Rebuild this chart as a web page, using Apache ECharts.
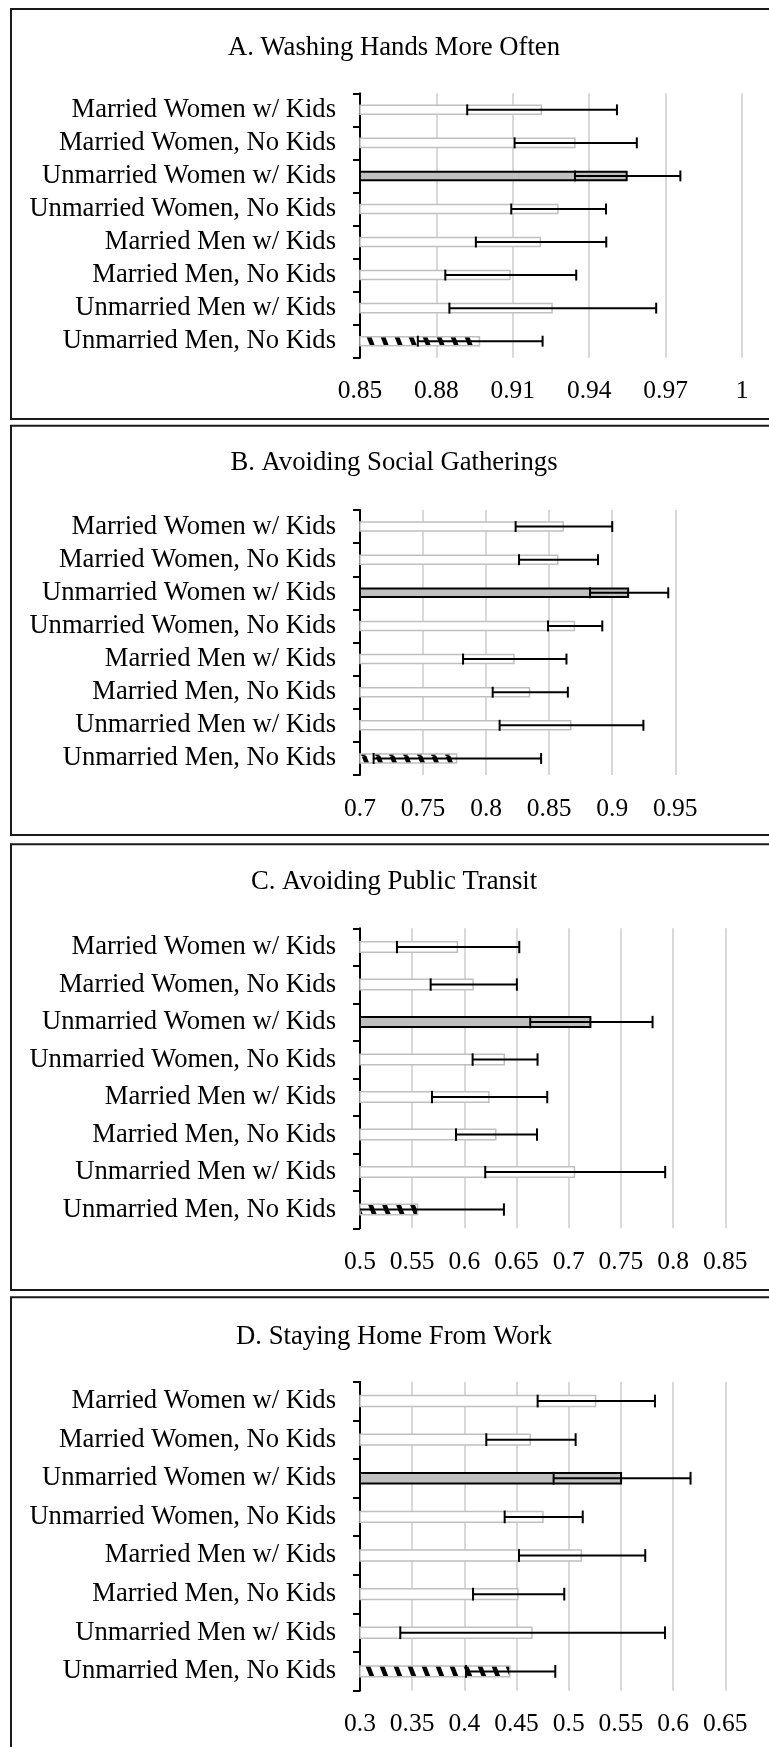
<!DOCTYPE html>
<html>
<head>
<meta charset="utf-8">
<script src="https://cdn.jsdelivr.net/npm/echarts@6/dist/echarts.min.js"></script>
<style>
html,body{margin:0;padding:0;background:#fff;}
#chart{width:769px;height:1747px;}
</style>
</head>
<body>
<div id="chart"></div>
<script>
// ---- data ----
const categories = [
  'Married Women w/ Kids',
  'Married Women, No Kids',
  'Unmarried Women w/ Kids',
  'Unmarried Women, No Kids',
  'Married Men w/ Kids',
  'Married Men, No Kids',
  'Unmarried Men w/ Kids',
  'Unmarried Men, No Kids'
];
const panelTitles = [
  'A. Washing Hands More Often',
  'B. Avoiding Social Gatherings',
  'C. Avoiding Public Transit',
  'D. Staying Home From Work'
];
const washMean    = [0.9215, 0.9347, 0.9551, 0.9280, 0.9211, 0.9092, 0.9257, 0.8972];
const washErr     = [0.0294, 0.0240, 0.0207, 0.0186, 0.0256, 0.0257, 0.0406, 0.0245];
const socialMean  = [0.8617, 0.8574, 0.9134, 0.8706, 0.8227, 0.8350, 0.8677, 0.7772];
const socialErr   = [0.0383, 0.0313, 0.0310, 0.0215, 0.0410, 0.0298, 0.0570, 0.0664];
const transitMean = [0.5940, 0.6090, 0.7217, 0.6390, 0.6242, 0.6308, 0.7062, 0.5559];
const transitErr  = [0.0586, 0.0413, 0.0586, 0.0311, 0.0552, 0.0388, 0.0862, 0.0820];
const homeMean    = [0.5264, 0.4638, 0.5511, 0.4760, 0.5128, 0.4520, 0.4654, 0.4443];
const homeErr     = [0.0562, 0.0428, 0.0656, 0.0374, 0.0605, 0.0437, 0.1268, 0.0428];
const axisMin  = [0.85, 0.7, 0.5, 0.3];
const axisMax  = [1.0, 0.95, 0.85, 0.65];
const axisStep = [0.03, 0.05, 0.05, 0.05];

const means = [washMean, socialMean, transitMean, homeMean];
const errs  = [washErr, socialErr, transitErr, homeErr];

// ---- layout / style ----
const FONT = "'Liberation Serif', 'Times New Roman', serif";
const grids = [
  {left: 360, top: 93.3,  width: 382,   height: 264.4},
  {left: 360, top: 510,   width: 315.3, height: 265},
  {left: 360, top: 928.3, width: 365.3, height: 300},
  {left: 360, top: 1381.7,width: 365.3, height: 309}
];
const frames = [
  {y: 9, h: 410},
  {y: 425.7, h: 409.3},
  {y: 844.3, h: 445.7},
  {y: 1297.3, h: 470}
];
const titleY = [48, 463, 881.5, 1336.5];

// hatch pattern for the reference group
function makeHatch() {
  const W = 14, H = 36;
  const c = document.createElement('canvas');
  c.width = W; c.height = H;
  const ctx = c.getContext('2d');
  ctx.fillStyle = '#fff';
  ctx.fillRect(0, 0, W, H);
  ctx.strokeStyle = '#000';
  ctx.lineWidth = 4.5;
  for (let k = -1; k <= 1; k++) {
    ctx.beginPath();
    ctx.moveTo(k * W, 0);
    ctx.lineTo(k * W + W, H);
    ctx.stroke();
  }
  return c;
}
const hatch = makeHatch();

function barItem(v, i) {
  if (i === 2) {
    return {value: v, itemStyle: {color: '#c0c0c0', borderColor: '#000', borderWidth: 2}};
  }
  if (i === 7) {
    return {value: v, itemStyle: {color: {image: hatch, repeat: 'repeat'}, borderColor: '#bfbfbf', borderWidth: 1.5}};
  }
  return {value: v, itemStyle: {color: '#fff', borderColor: '#bfbfbf', borderWidth: 1.5}};
}

function errRender(min, max) {
  return function (params, api) {
    const lo = api.value(0), hi = api.value(1), c = api.value(2);
    const p1 = api.coord([Math.max(lo, min), c]);
    const p2 = api.coord([Math.min(hi, max), c]);
    const h = api.size([0, 1])[1] * 0.33 / 2;
    const st = {stroke: '#000', lineWidth: 2};
    const ch = [{type: 'line', shape: {x1: p1[0], y1: p1[1], x2: p2[0], y2: p2[1]}, style: st}];
    if (lo >= min) ch.push({type: 'line', shape: {x1: p1[0], y1: p1[1] - h, x2: p1[0], y2: p1[1] + h}, style: st});
    if (hi <= max) ch.push({type: 'line', shape: {x1: p2[0], y1: p2[1] - h, x2: p2[0], y2: p2[1] + h}, style: st});
    return {type: 'group', children: ch};
  };
}

const option = {
  animation: false,
  backgroundColor: '#fff',
  grid: grids.map(g => Object.assign({containLabel: false}, g)),
  xAxis: grids.map((g, k) => ({
    type: 'value', gridIndex: k,
    min: axisMin[k], max: axisMax[k], interval: axisStep[k],
    axisLine: {show: false}, axisTick: {show: false},
    splitLine: {show: true, lineStyle: {color: '#d9d9d9', width: 2}},
    axisLabel: {color: '#000', fontFamily: FONT, fontSize: 25.5, margin: 21}
  })),
  yAxis: grids.map((g, k) => ({
    type: 'category', gridIndex: k, data: categories, inverse: true,
    axisLine: {show: true, lineStyle: {color: '#000', width: 2}},
    axisTick: {show: true, length: 7, lineStyle: {color: '#000', width: 2}},
    axisLabel: {color: '#000', fontFamily: FONT, fontSize: 26.6, margin: 24, interval: 0},
    splitLine: {show: false}
  })),
  series: [],
  graphic: []
};

for (let k = 0; k < 4; k++) {
  option.series.push({
    type: 'bar', xAxisIndex: k, yAxisIndex: k,
    barWidth: '32%', clip: true,
    data: means[k].map(barItem)
  });
  option.series.push({
    type: 'custom', xAxisIndex: k, yAxisIndex: k, z: 5, clip: false,
    renderItem: errRender(axisMin[k], axisMax[k]),
    encode: {x: [0, 1], y: 2},
    data: means[k].map((m, i) => [m - errs[k][i], m + errs[k][i], i])
  });
  option.graphic.push({
    type: 'rect', z: 100, silent: true,
    shape: {x: 11, y: frames[k].y, width: 780, height: frames[k].h},
    style: {fill: 'none', stroke: '#1a1a1a', lineWidth: 2}
  });
  option.graphic.push({
    type: 'text', z: 100, silent: true,
    style: {x: 394, y: titleY[k], text: panelTitles[k], fill: '#000',
      font: '26.7px ' + FONT, textAlign: 'center', textVerticalAlign: 'middle'}
  });
}

const chart = echarts.init(document.getElementById('chart'), null, {renderer: 'canvas'});
chart.setOption(option);
</script>
</body>
</html>
